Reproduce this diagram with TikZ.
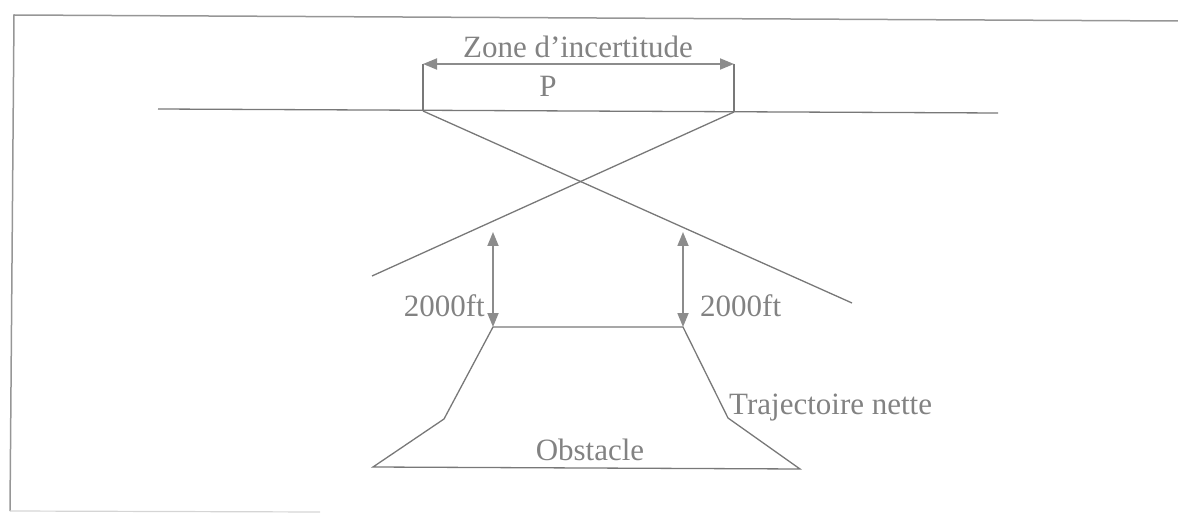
\documentclass[tikz,border=0pt]{standalone}
\usepackage{fontspec}
\setmainfont{Liberation Serif}
\usetikzlibrary{arrows.meta}
\definecolor{lineg}{RGB}{120,120,120}
\definecolor{textg}{RGB}{130,130,130}
\definecolor{arrg}{RGB}{140,140,140}
\definecolor{frameg}{RGB}{150,150,150}
\begin{document}
\begin{tikzpicture}[x=1pt,y=-1pt,
  ln/.style={draw=lineg,line width=1.3pt},
  dim/.style={draw=arrg,line width=1.8pt,{Triangle[length=14pt,width=11pt]}-{Triangle[length=14pt,width=11pt]}},
  lbl/.style={text=textg,font=\fontsize{31}{36}\selectfont,inner sep=0pt}]
\useasboundingbox (0,0) rectangle (1178,513);
% frame
\coordinate (f1) at (14,15);
\coordinate (f2) at (1178,21);
\coordinate (f3) at (10,511);
\coordinate (f4) at (320,512);
\draw[frameg,line width=1.5pt] (f2) -- (f1) -- (f3);
\draw[frameg!40,line width=1.2pt] (f3) -- (f4);
% horizontal line
\coordinate (h1) at (158,109);
\coordinate (h2) at (998,113);
\draw[ln] (h1) -- (h2);
% bracket
\coordinate (bl) at (423,111);
\coordinate (br) at (734,112);
\coordinate (tl) at (423,64);
\coordinate (tr) at (734,64);
\draw[ln] (tl) -- (bl);
\draw[ln] (tr) -- (br);
\draw[dim] (tl) -- (tr);
\node[lbl] (zone) at (578,47) {Zone d'incertitude};
\node[lbl] (p) at (548,86) {P};
% crossing lines
\coordinate (c1) at (852,303);
\coordinate (c2) at (372,276);
\draw[ln] (bl) -- (c1);
\draw[ln] (br) -- (c2);
% obstacle
\coordinate (o1) at (493,327);
\coordinate (o2) at (683,327);
\coordinate (o3) at (728,418);
\coordinate (o4) at (800,469);
\coordinate (o5) at (373,467);
\coordinate (o6) at (444,419);
\draw[ln] (o1) -- (o2) -- (o3) -- (o4) -- (o5) -- (o6) -- cycle;
% 2000ft arrows
\coordinate (a1) at (493,232);
\coordinate (a2) at (683,232);
\draw[dim] (a1) -- (o1);
\draw[dim] (a2) -- (o2);
\node[lbl,anchor=east] (l1) at (485,306) {2000ft};
\node[lbl,anchor=west] (l2) at (700,306) {2000ft};
\node[lbl,anchor=west] (traj) at (729,408) {Trajectoire nette};
\node[lbl] (obs) at (590,450) {Obstacle};
\end{tikzpicture}
\end{document}
